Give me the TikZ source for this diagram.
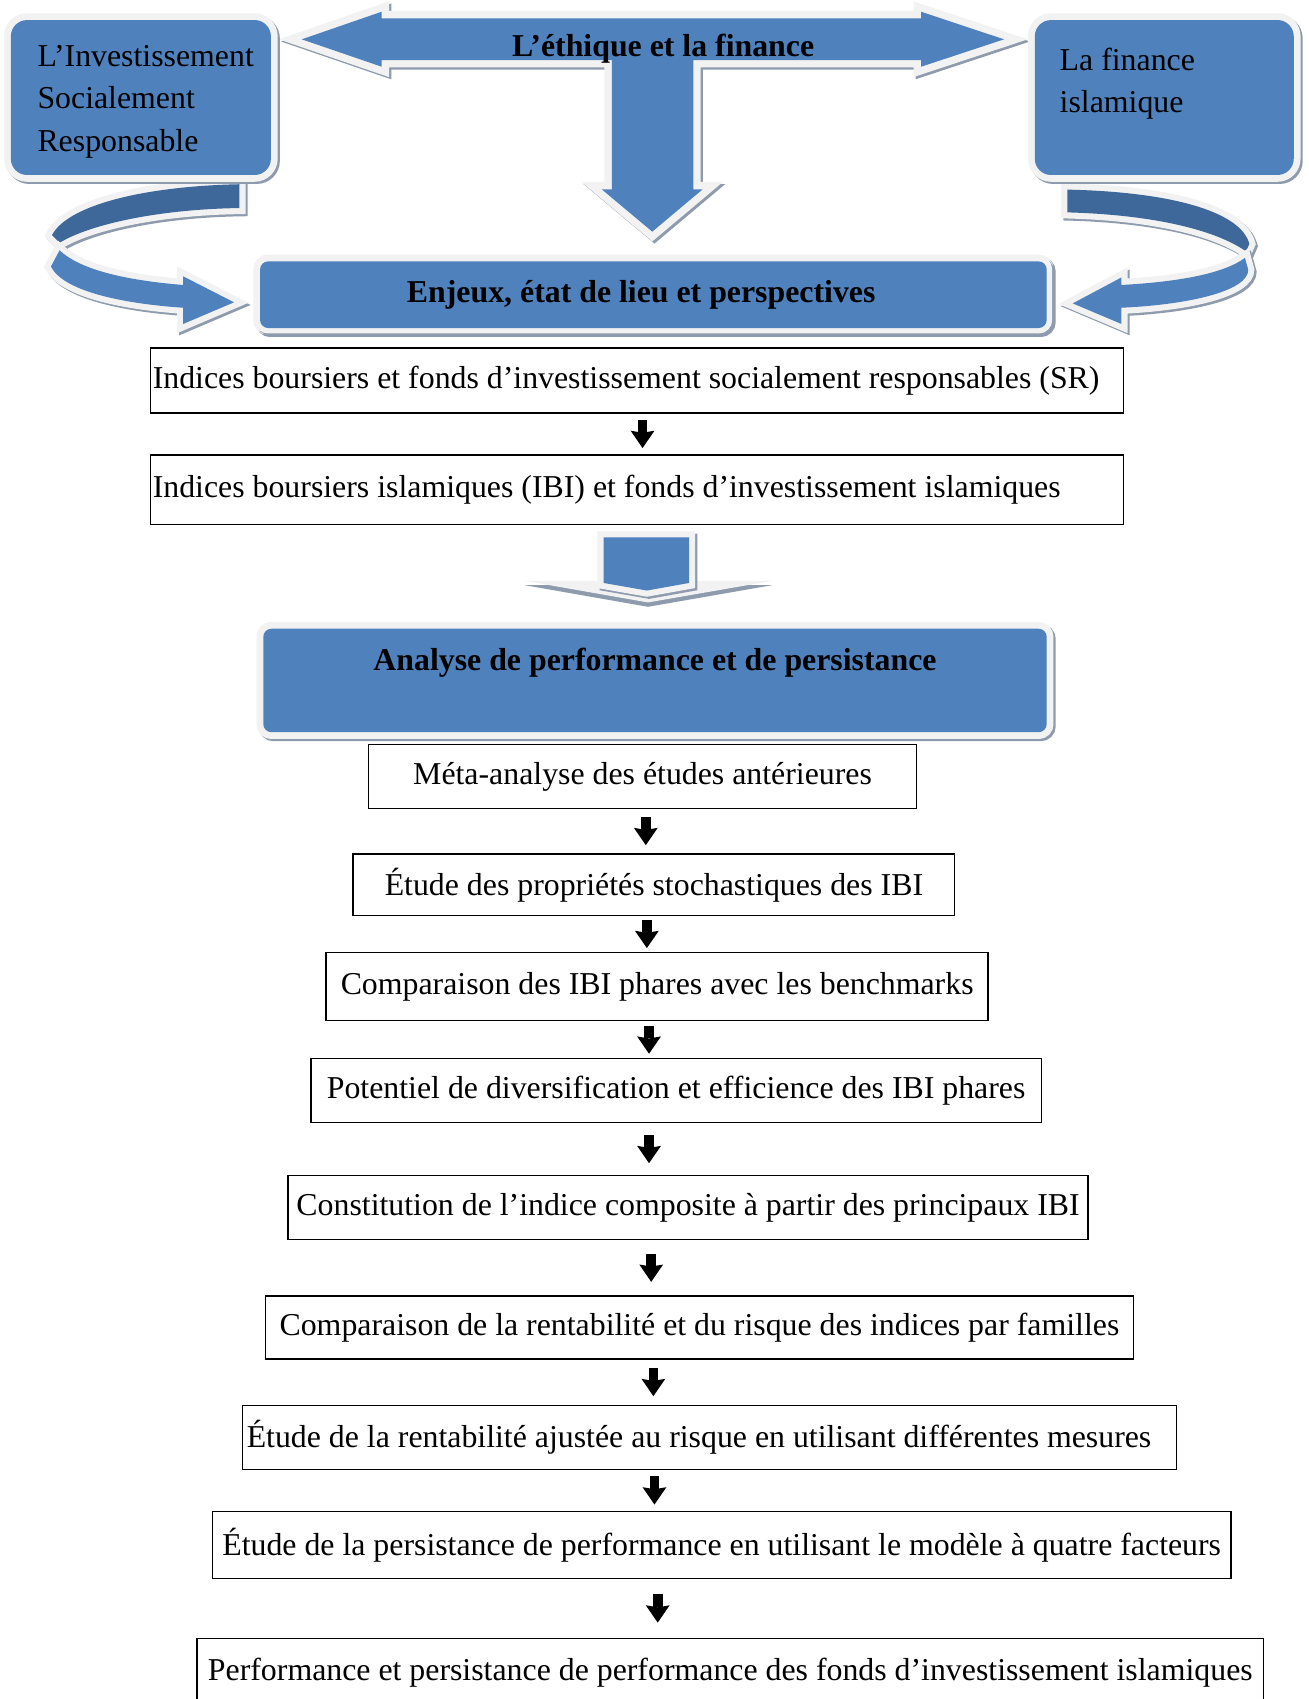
\documentclass[tikz,border=0pt]{standalone}
\usepackage{fontspec}
\setmainfont{Liberation Serif}
\usetikzlibrary{arrows.meta, calc}
\definecolor{bleu}{HTML}{4F81BD}
\definecolor{bleufonce}{HTML}{3D6899}
\definecolor{clair}{HTML}{F2F2F2}
\definecolor{ombre}{HTML}{8D9BAD}

\begin{document}
\begin{tikzpicture}[x=0.8pt, y=-0.8pt,
  police/.style={font=\fontsize{23.5}{31.2}\selectfont},
  gras/.style={font=\fontsize{23.5}{31.2}\selectfont\bfseries},
  bordure/.style={preaction={draw=ombre, line width=#1, transform canvas={shift={(1.6pt,-1.6pt)}}}, preaction={draw=clair, line width=#1}},
  cadre/.style={police, fill=bleu, rounded corners=12pt, bordure=10pt},
  titre/.style={cadre, gras, align=center, rounded corners=6pt},
  ruban/.style={bordure=9pt},
  etape/.style={police, draw, line width=1.1pt, inner ysep=0pt},
  fleche/.style={line width=7.2pt, -{Stealth[length=12.8pt, width=17.6pt, inset=1.5pt, line width=0pt]}}
]
\path[use as bounding box, fill=white] (0,0) rectangle (1208,1568);

\fill[ruban, bleufonce] (221,170) .. controls (130,172) and (62,190) .. (48,217) -- (55,224) .. controls (85,206) and (150,193) .. (221,192) -- cycle;
\fill[ruban, bleu] (55,231) .. controls (75,250) and (120,259) .. (169,263) -- (169,255) -- (216,279) -- (169,299) -- (169,284) .. controls (110,280) and (58,268) .. (47,246) -- cycle;
\fill[ruban, bleufonce] (985,175) .. controls (1080,177) and (1145,195) .. (1153,225) -- (1150,232) .. controls (1120,211) and (1060,198) .. (985,196) -- cycle;
\fill[ruban, bleu] (1149,238) .. controls (1130,252) and (1090,260) .. (1035,263) -- (1035,256) -- (990,280) -- (1035,299) -- (1035,284) .. controls (1100,281) and (1152,268) .. (1152,249) -- cycle;

\fill[bordure=11pt, bleu] (278.5,36.3) -- (352.3,10.8) -- (352.3,16.9) -- (850,16.9) -- (850,10.8) -- (926.6,36.3) -- (850,61.6) -- (850,55.4) -- (639.8,55.4) -- (639.8,174.7) -- (648.5,174.7) -- (602,213.8) -- (555.3,174.7) -- (564.6,174.7) -- (564.6,55.4) -- (352.3,55.4) -- (352.3,61.6) -- cycle;
\node[gras] (ethique) at (612,45) {L’éthique et la finance};

\node[cadre, align=flush left, text width=152.6pt, inner xsep=19.7pt, minimum height=114.4pt] (isr) at (130,90) {\mbox{L’Investissement}\strut\\Socialement\\Responsable};
\node[cadre, align=flush left, text width=154.4pt, inner xsep=18.4pt, minimum height=114.4pt] (fi) at (1074.5,90) {La finance\strut\\islamique\\~};
\node[titre, bordure=8pt, minimum width=580.8pt, minimum height=49.2pt] (enjeux) at (603,272) {Enjeux, état de lieu et perspectives\hspace*{18pt}};

\node[etape, minimum width=718.4pt, minimum height=48pt, text width=715.2pt, inner xsep=1.6pt, align=flush left] (sr) at (588,351) {Indices boursiers et fonds d’investissement socialement responsables (SR)};
\node[etape, minimum width=718.4pt, minimum height=51.2pt, text width=715.2pt, inner xsep=1.6pt, align=flush left] (ibi) at (588,452) {Indices boursiers islamiques (IBI) et fonds d’investissement islamiques};

\fill[ombre] (484,540) -- (713,540) -- (598,560) -- cycle;
\fill[clair] (484,536) -- (713,536) -- (598,556) -- cycle;
\fill[bordure=9pt, bleu] (557,496) -- (636,496) -- (636,538) -- (597,545) -- (557,538) -- cycle;

\node[titre, minimum width=578.4pt, minimum height=76.4pt] (analyse) at (604.5,628) {Analyse de performance et de persistance\\~};

\node[etape, minimum width=404.8pt, minimum height=47.2pt] (m1) at (593,716.5) {Méta-analyse des études antérieures};
\node[etape, minimum width=444pt, minimum height=45.6pt] (m2) at (603.5,816.5) {Étude des propriétés stochastiques des IBI};
\node[etape, minimum width=488.8pt, minimum height=50.4pt] (m3) at (606.5,910.5) {Comparaison des IBI phares avec les benchmarks};
\node[etape, minimum width=539.2pt, minimum height=47.2pt] (m4) at (624,1006.5) {Potentiel de diversification et efficience des IBI phares};
\node[etape, minimum width=590.4pt, minimum height=47.2pt] (m5) at (635,1114.5) {Constitution de l’indice composite à partir des principaux IBI};
\node[etape, minimum width=640.8pt, minimum height=46.4pt] (m6) at (645.5,1225) {Comparaison de la rentabilité et du risque des indices par familles};
\node[etape, minimum width=689.6pt, minimum height=47.2pt, text width=689.6pt, inner xsep=0pt, align=flush left] (m7) at (655,1326.5) {\hspace*{3pt}Étude de la rentabilité ajustée au risque en utilisant différentes mesures};
\node[etape, minimum width=752pt, minimum height=49.6pt] (m8) at (666,1426) {Étude de la persistance de performance en utilisant le modèle à quatre facteurs};
\node[etape, minimum width=787.2pt, minimum height=51.2pt] (m9) at (674,1544) {Performance et persistance de performance des fonds d’investissement islamiques};

\foreach \a/\b/\x in {sr/ibi/593, m1/m2/596, m2/m3/597, m3/m4/599, m4/m5/599, m5/m6/601, m6/m7/603, m7/m8/604, m8/m9/607}
  \draw[fleche] ($(\a.south -| \x,0)!.5!(\b.north -| \x,0)+(0,-13)$) -- ++(0,26);
\end{tikzpicture}
\end{document}
